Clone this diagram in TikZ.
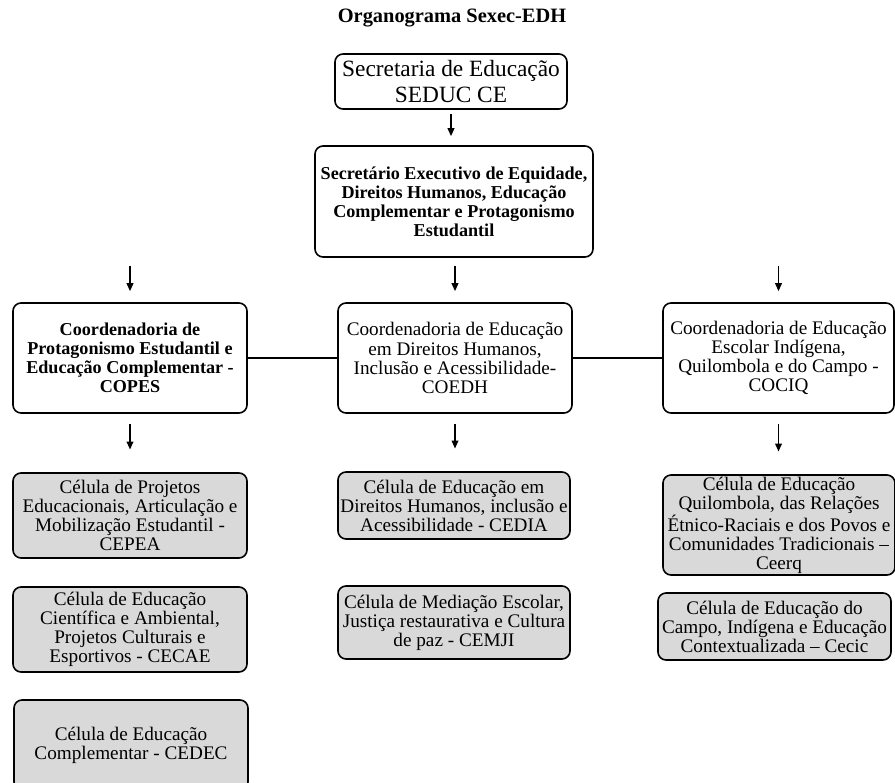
\documentclass[tikz,border=0pt]{standalone}
\usepackage{fontspec}
\setmainfont{Liberation Serif}
\usetikzlibrary{arrows.meta}
\definecolor{cellgray}{RGB}{217,217,217}

\begin{document}
\begin{tikzpicture}[x=0.75pt, y=-0.75pt,
    box/.style={draw, line width=1.2pt, rounded corners=6pt, align=center, inner sep=1pt,
      font=\fontsize{14.4}{14.3}\selectfont},
    boldbox/.style={box, font=\fontsize{13.6}{14.3}\selectfont\bfseries},
    cell/.style={box, fill=cellgray},
    arr/.style={-{Triangle[length=6pt, width=5pt]}, line width=1.2pt}]
    \useasboundingbox (0,0) rectangle (895,782);
    \node[font=\fontsize{15.3}{18}\selectfont\bfseries] (title) at (452,18) {Organograma Sexec-EDH};
    \node[box, minimum width=174pt, minimum height=41.25pt, font=\fontsize{17.5}{19}\selectfont] (seduc) at (451,81.5)
        {Secretaria de Educação\\SEDUC CE};
    \node[boldbox, minimum width=208.5pt, minimum height=83.25pt] (sec) at (454,201.5)
        {Secretário Executivo de Equidade,\\Direitos Humanos, Educação\\Complementar e Protagonismo\\Estudantil};
    \node[boldbox, minimum width=175.5pt, minimum height=82.5pt] (copes) at (130,358)
        {Coordenadoria de\\Protagonismo Estudantil e\\Educação Complementar -\\COPES};
    \node[box, minimum width=175.5pt, minimum height=82.5pt] (coedh) at (455,358)
        {Coordenadoria de Educação\\em Direitos Humanos,\\Inclusão e Acessibilidade-\\COEDH};
    \node[box, minimum width=173.25pt, minimum height=82.5pt] (cociq) at (778.5,358)
        {Coordenadoria de Educação\\Escolar Indígena,\\Quilombola e do Campo -\\COCIQ};
    \node[cell, minimum width=175.5pt, minimum height=63.75pt] (cepea) at (130,515.5)
        {Célula de Projetos\\Educacionais, Articulação e\\Mobilização Estudantil -\\CEPEA};
    \node[cell, minimum width=175.5pt, minimum height=63.75pt] (cecae) at (130,629.5)
        {Célula de Educação\\Científica e Ambiental,\\Projetos Culturais e\\Esportivos - CECAE};
    \node[cell, minimum width=175.5pt, minimum height=67.5pt] (cedec) at (131,745)
        {Célula de Educação\\Complementar - CEDEC};
    \node[cell, minimum width=174pt, minimum height=50.25pt] (cedia) at (454,505.5)
        {Célula de Educação em\\Direitos Humanos, inclusão e\\Acessibilidade - CEDIA};
    \node[cell, minimum width=174pt, minimum height=54.75pt] (cemji) at (454,622.5)
        {Célula de Mediação Escolar,\\Justiça restaurativa e Cultura\\de paz - CEMJI};
    \node[cell, minimum width=174pt, minimum height=75pt, inner ysep=0pt] (ceerq) at (779,525)
        {Célula de Educação\\Quilombola, das Relações\\Étnico-Raciais e dos Povos e\\Comunidades Tradicionais –\\Ceerq};
    \node[cell, minimum width=174.75pt, minimum height=50.25pt] (cecic) at (774.5,626.5)
        {Célula de Educação do\\Campo, Indígena e Educação\\Contextualizada – Cecic};
    \draw[arr, shorten <=3pt, shorten >=6.75pt] (seduc.south) -- (seduc.south |- sec.north);
    \foreach \n in {copes, coedh, cociq}
        \draw[arr, shorten <=6pt, shorten >=8.25pt] (sec.south -| \n.north) -- (\n.north);
    \foreach \a/\b in {copes/cepea, coedh/cedia, cociq/ceerq}
        \draw[arr, shorten <=7.5pt, shorten >=17pt] (\a.south) -- (\a.south |- \b.north);
    \draw[line width=1.2pt] (copes) -- (coedh) (coedh) -- (cociq);
\end{tikzpicture}
\end{document}
